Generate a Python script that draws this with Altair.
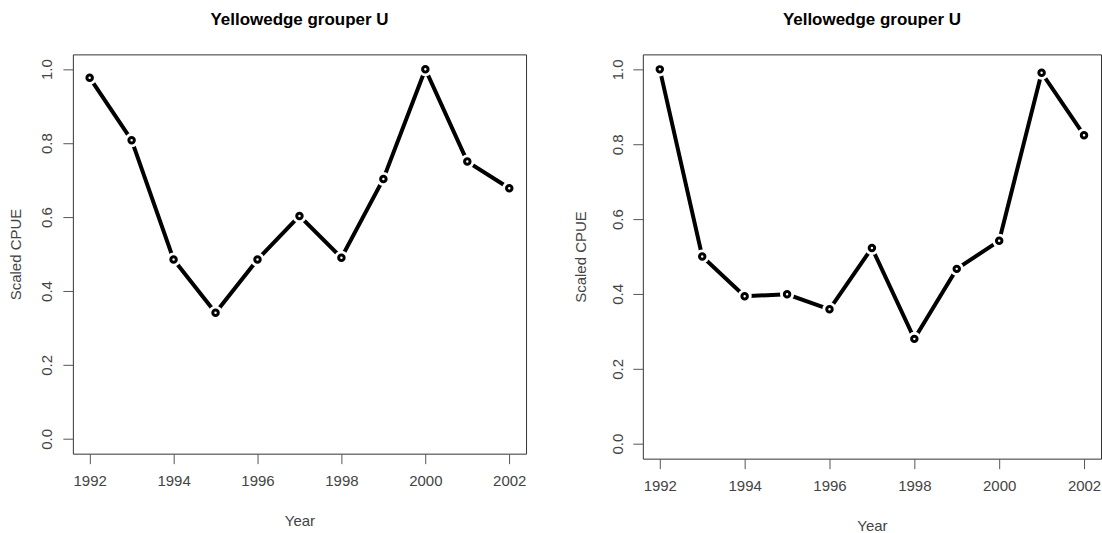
import altair as alt
import pandas as pd

years = [1992, 1993, 1994, 1995, 1996, 1997, 1998, 1999, 2000, 2001, 2002]
cpue_left = [0.977, 0.808, 0.485, 0.341, 0.485, 0.603, 0.490, 0.703, 1.000, 0.750, 0.678]
cpue_right = [1.000, 0.500, 0.394, 0.399, 0.359, 0.523, 0.280, 0.467, 0.542, 0.991, 0.824]
x_ticks = [1992, 1994, 1996, 1998, 2000, 2002]
y_ticks = [0.0, 0.2, 0.4, 0.6, 0.8, 1.0]
title_text = "Yellowedge grouper U"
x_title = "Year"
y_title = "Scaled CPUE"

FONT = "Liberation Sans"
LABEL_COLOR = "#444444"
TICK_COLOR = "#555555"


def panel(values, w, h, y_label_pad, y_title_pad):
    df = pd.DataFrame({"Year": years, "CPUE": values})
    x = alt.X(
        "Year:Q",
        scale=alt.Scale(domain=[1991.6, 2002.4], nice=False, zero=False),
        axis=alt.Axis(
            values=x_ticks, format="d", title=x_title, grid=False, domain=False,
            tickSize=10, tickColor=TICK_COLOR, labelPadding=10,
            labelFont=FONT, labelFontSize=15, labelColor=LABEL_COLOR,
            titleFont=FONT, titleFontSize=15, titleFontWeight="normal",
            titleColor=LABEL_COLOR, titlePadding=25, labelFlush=False,
        ),
    )
    y = alt.Y(
        "CPUE:Q",
        scale=alt.Scale(domain=[-0.04, 1.04], nice=False, zero=False),
        axis=alt.Axis(
            values=y_ticks, format=".1f", title=y_title, grid=False, domain=False,
            tickSize=10, tickColor=TICK_COLOR, labelPadding=y_label_pad,
            labelAngle=270, labelAlign="center", labelBaseline="bottom",
            labelFont=FONT, labelFontSize=15, labelColor=LABEL_COLOR, labelFlush=False,
            titleFont=FONT, titleFontSize=15, titleFontWeight="normal",
            titleColor=LABEL_COLOR, titlePadding=y_title_pad,
        ),
    )
    base = alt.Chart(df).encode(x=x, y=y)
    line = base.mark_line(color="black", strokeWidth=4)
    gap = base.mark_point(shape="circle", filled=True, color="white", size=200, opacity=1)
    pts = base.mark_point(shape="circle", filled=False, color="black",
                          strokeWidth=3, size=30, opacity=1)
    return alt.layer(line, gap, pts).properties(
        width=w, height=h,
        title=alt.TitleParams(
            title_text, font=FONT, fontSize=17, fontWeight="bold", color="black",
            anchor="middle", baseline="alphabetic", offset=12,
        ),
    )


left = panel(cpue_left, 454, 400, 8, 16)
right = panel(cpue_right, 459, 405, 7, 22)

chart = (
    alt.hconcat(left, right, spacing=46)
    .properties(padding={"left": 8, "top": 10, "right": 0, "bottom": 0}, background="white")
    .configure_view(stroke="#333333", strokeWidth=1)
)

chart.save("out.html", embed_options={"renderer": "svg", "actions": False})
